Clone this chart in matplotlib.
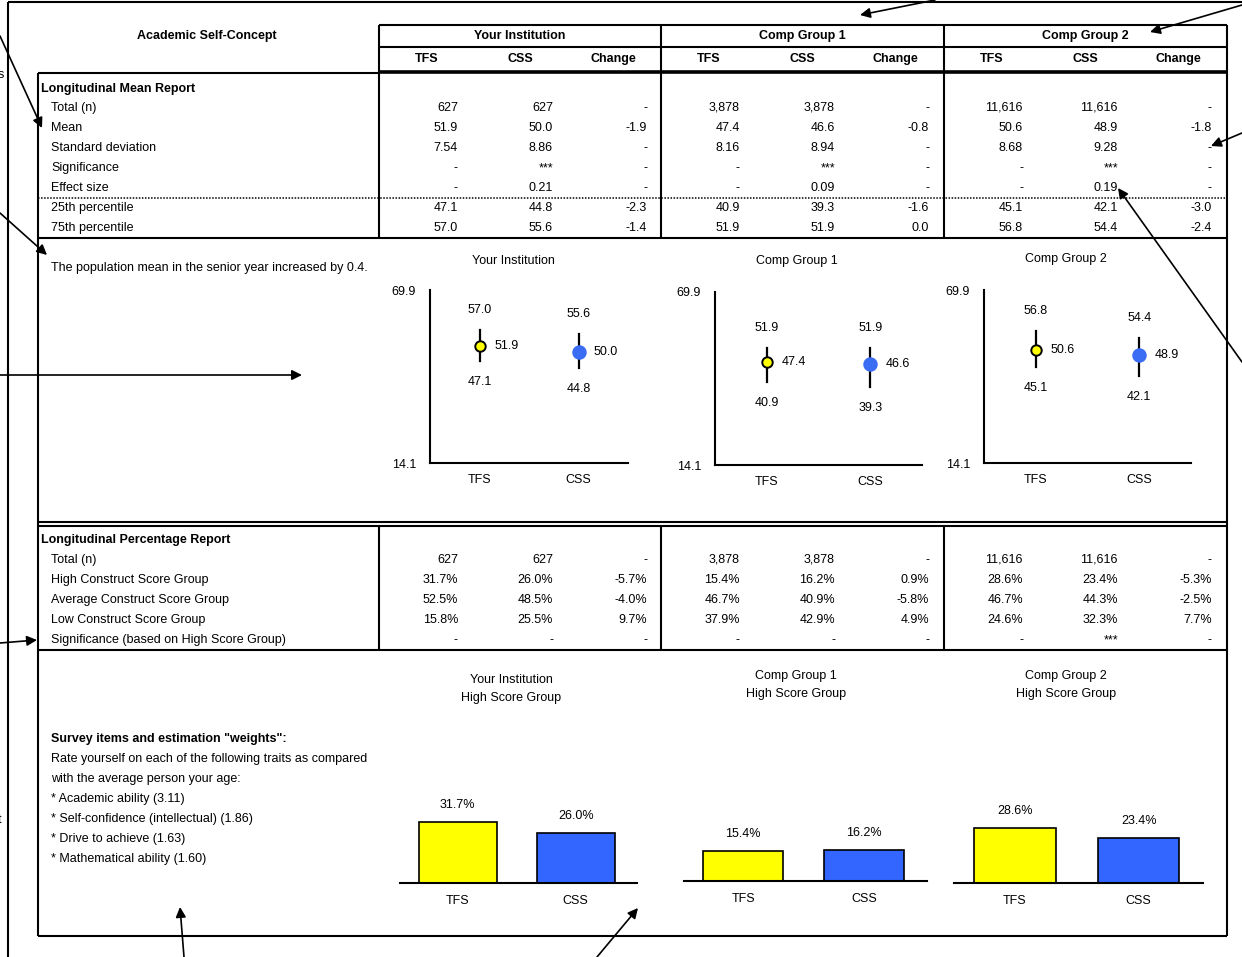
import matplotlib
matplotlib.use("Agg")
import matplotlib.pyplot as plt

W, H = 1242, 957
DPI = 100
FS = 9.0

plt.rcParams["font.family"] = ["Liberation Sans", "DejaVu Sans"]
plt.rcParams["font.size"] = FS

# Table data, one entry per group
groups = ["Your Institution", "Comp Group 1", "Comp Group 2"]
n_total = [627, 3878, 11616]

mean_tfs = [51.9, 47.4, 50.6]
mean_css = [50.0, 46.6, 48.9]
mean_change = [-1.9, -0.8, -1.8]
sd_tfs = [7.54, 8.16, 8.68]
sd_css = [8.86, 8.94, 9.28]
sig_css = ["***", "***", "***"]
effect_css = [0.21, 0.09, 0.19]
p25_tfs = [47.1, 40.9, 45.1]
p25_css = [44.8, 39.3, 42.1]
p25_change = [-2.3, -1.6, -3.0]
p75_tfs = [57.0, 51.9, 56.8]
p75_css = [55.6, 51.9, 54.4]
p75_change = [-1.4, 0.0, -2.4]

high_tfs = [31.7, 15.4, 28.6]
high_css = [26.0, 16.2, 23.4]
high_change = [-5.7, 0.9, -5.3]
avg_tfs = [52.5, 46.7, 46.7]
avg_css = [48.5, 40.9, 44.3]
avg_change = [-4.0, -5.8, -2.5]
low_tfs = [15.8, 37.9, 24.6]
low_css = [25.5, 42.9, 32.3]
low_change = [9.7, 4.9, 7.7]
sig_pct_css = ["-", "-", "***"]

sub_cols = ["TFS", "CSS", "Change"]
y_range = (14.1, 69.9)

mean_labels = ["Total (n)", "Mean", "Standard deviation", "Significance",
               "Effect size", "25th percentile", "75th percentile"]
pct_labels = ["Total (n)", "High Construct Score Group", "Average Construct Score Group",
              "Low Construct Score Group", "Significance (based on High Score Group)"]
survey_lines = ["Rate yourself on each of the following traits as compared",
                "with the average person your age:",
                "* Academic ability (3.11)",
                "* Self-confidence (intellectual) (1.86)",
                "* Drive to achieve (1.63)",
                "* Mathematical ability (1.60)"]

fig = plt.figure(figsize=(W / DPI, H / DPI), dpi=DPI)
bg = fig.add_axes((0, 0, 1, 1))
bg.set_xlim(0, W)
bg.set_ylim(H, 0)
bg.axis("off")


def hline(y, x0, x1, lw=1.5, **kw):
    bg.plot([x0, x1], [y, y], color="black", lw=lw, solid_capstyle="butt", **kw)


def vline(x, y0, y1, lw=1.5):
    bg.plot([x, x], [y0, y1], color="black", lw=lw, solid_capstyle="butt")


def txt(x, y, s, ha="left", bold=False, size=FS):
    bg.text(x, y, s, ha=ha, va="center", fontsize=size,
            fontweight="bold" if bold else "normal")


def arrow(tail, tip):
    bg.annotate("", xy=tip, xytext=tail, annotation_clip=False,
                arrowprops=dict(arrowstyle="-|>", color="black", lw=1.2,
                                mutation_scale=15, shrinkA=0, shrinkB=0))


def px_rect(left, top, right, bottom):
    return (left / W, 1 - bottom / H, (right - left) / W, (bottom - top) / H)


# Outer frame (cropped) and inner frame
hline(2, 8, W)
vline(8, 2, H)
vline(38, 73, 936)
vline(1227, 25, 936)
hline(936, 38, 1227)

# Header box
col_left = [379, 661, 944]
hline(25, 379, 1227)
hline(47, 379, 1227)
hline(72, 379, 1227, lw=2.6)
hline(73, 38, 379)
for x in col_left:
    vline(x, 25, 72)

txt(207, 36, "Academic Self-Concept", ha="center", bold=True)
for i, g in enumerate(groups):
    x0 = col_left[i]
    txt(x0 + 141, 36, g, ha="center", bold=True)
    for j, s in enumerate(sub_cols):
        txt(x0 + 48 + 93 * j, 59, s, ha="center", bold=True)

# Mean report block
for x in col_left:
    vline(x, 73, 238)
hline(198, 38, 1227, lw=1.1, linestyle=(0, (1, 1)))
hline(238, 38, 1227)

txt(41, 89, "Longitudinal Mean Report", bold=True)
for k, lab in enumerate(mean_labels):
    txt(51, 108 + 20 * k, lab)

right_off = [79, 174, 268]
for i in range(3):
    rows = [
        (f"{n_total[i]:,}", f"{n_total[i]:,}", "-"),
        (f"{mean_tfs[i]:.1f}", f"{mean_css[i]:.1f}", f"{mean_change[i]:.1f}"),
        (f"{sd_tfs[i]:.2f}", f"{sd_css[i]:.2f}", "-"),
        ("-", sig_css[i], "-"),
        ("-", f"{effect_css[i]:.2f}", "-"),
        (f"{p25_tfs[i]:.1f}", f"{p25_css[i]:.1f}", f"{p25_change[i]:.1f}"),
        (f"{p75_tfs[i]:.1f}", f"{p75_css[i]:.1f}", f"{p75_change[i]:.1f}"),
    ]
    for k, row in enumerate(rows):
        for j, s in enumerate(row):
            txt(col_left[i] + right_off[j], 108 + 20 * k, s, ha="right")

txt(51, 268, "The population mean in the senior year increased by 0.4.")

# Dot charts (mean with 25th-75th percentile whisker)
dot_rects = [(430, 290, 628, 463), (715, 292, 922, 465), (984, 290, 1191, 463)]
dot_titles = [(513, 261), (797, 261), (1066, 259)]
for i, r in enumerate(dot_rects):
    txt(dot_titles[i][0], dot_titles[i][1], groups[i], ha="center")
    ax = fig.add_axes(px_rect(*r))
    ax.set_facecolor("none")
    ax.set_xlim(0, 2)
    ax.set_ylim(*y_range)
    for side in ("top", "right"):
        ax.spines[side].set_visible(False)
    for side in ("left", "bottom"):
        ax.spines[side].set_linewidth(1.5)
    ax.set_yticks(list(y_range), [f"{v:.1f}" for v in y_range])
    ax.set_xticks([0.5, 1.5], ["TFS", "CSS"])
    ax.tick_params(axis="y", length=0, pad=10, labelsize=FS)
    ax.tick_params(axis="x", length=0, pad=8, labelsize=FS)

    series = [(0.5, mean_tfs[i], p25_tfs[i], p75_tfs[i], "#ffff00", "black", 7.5),
              (1.5, mean_css[i], p25_css[i], p75_css[i], "#3a6cf4", "#3a6cf4", 9)]
    for x, m, lo, hi, fc, ec, ms in series:
        ax.plot([x, x], [lo, hi], color="black", lw=1.6)
        ax.plot(x, m, "o", mfc=fc, mec=ec, mew=1.4, ms=ms, zorder=3)
        ax.annotate(f"{hi:.1f}", (x, hi), xytext=(0, 20), textcoords="offset pixels",
                    ha="center", va="center", fontsize=FS)
        ax.annotate(f"{lo:.1f}", (x, lo), xytext=(0, -21), textcoords="offset pixels",
                    ha="center", va="center", fontsize=FS)
        ax.annotate(f"{m:.1f}", (x, m), xytext=(15, 0), textcoords="offset pixels",
                    ha="left", va="center", fontsize=FS)

# Percentage report block
hline(522, 38, 1227)
hline(526, 38, 1227)
for x in col_left:
    vline(x, 526, 651)
hline(650, 38, 1227)

txt(41, 540, "Longitudinal Percentage Report", bold=True)
for k, lab in enumerate(pct_labels):
    txt(51, 560 + 20 * k, lab)

for i in range(3):
    rows = [
        (f"{n_total[i]:,}", f"{n_total[i]:,}", "-"),
        (f"{high_tfs[i]:.1f}%", f"{high_css[i]:.1f}%", f"{high_change[i]:.1f}%"),
        (f"{avg_tfs[i]:.1f}%", f"{avg_css[i]:.1f}%", f"{avg_change[i]:.1f}%"),
        (f"{low_tfs[i]:.1f}%", f"{low_css[i]:.1f}%", f"{low_change[i]:.1f}%"),
        ("-", sig_pct_css[i], "-"),
    ]
    for k, row in enumerate(rows):
        for j, s in enumerate(row):
            txt(col_left[i] + right_off[j], 560 + 20 * k, s, ha="right")

txt(51, 739, 'Survey items and estimation "weights":', bold=True)
for k, s in enumerate(survey_lines):
    txt(51, 759 + 20 * k, s)

# Bar charts of the high score group
px_per_pct = 1.92
bar_rects = [(400, 883, 637), (684, 881, 927), (954, 883, 1203)]
bar_titles = [(511, 680), (796, 676), (1066, 676)]
for i, (left, base, right) in enumerate(bar_rects):
    tx, ty = bar_titles[i]
    txt(tx, ty, groups[i], ha="center")
    txt(tx, ty + 18, "High Score Group", ha="center")
    top = base - 40 * px_per_pct
    ax = fig.add_axes(px_rect(left, top, right, base))
    ax.set_facecolor("none")
    ax.set_xlim(-0.49, 1.52)
    ax.set_ylim(0, 40)
    for side in ("top", "right", "left"):
        ax.spines[side].set_visible(False)
    ax.spines["bottom"].set_linewidth(1.5)
    ax.set_yticks([])
    ax.set_xticks([0, 1], ["TFS", "CSS"])
    ax.tick_params(axis="x", length=0, pad=9, labelsize=FS)
    vals = [high_tfs[i], high_css[i]]
    ax.bar([0, 1], vals, width=0.66, color=["#ffff00", "#3366ff"],
           edgecolor="black", linewidth=1.2, zorder=2)
    for x, v in zip([0, 1], vals):
        ax.annotate(f"{v:.1f}%", (x, v), xytext=(0, 17), textcoords="offset pixels",
                    ha="center", va="center", fontsize=FS)

# Callout arrows from the surrounding page (cropped)
arrow((0, 36), (42, 128))
arrow((0, 213), (47, 255))
arrow((0, 375), (302, 375))
arrow((0, 643), (37, 640))
arrow((184, 957), (180, 907))
arrow((597, 957), (638, 908))
arrow((935, 0), (860, 15))
arrow((1242, 5), (1150, 32))
arrow((1242, 133), (1211, 146))
arrow((1242, 362), (1118, 188))
txt(-2, 75, "s")
txt(-2, 820, "t")

fig.savefig("out.png", dpi=DPI)
